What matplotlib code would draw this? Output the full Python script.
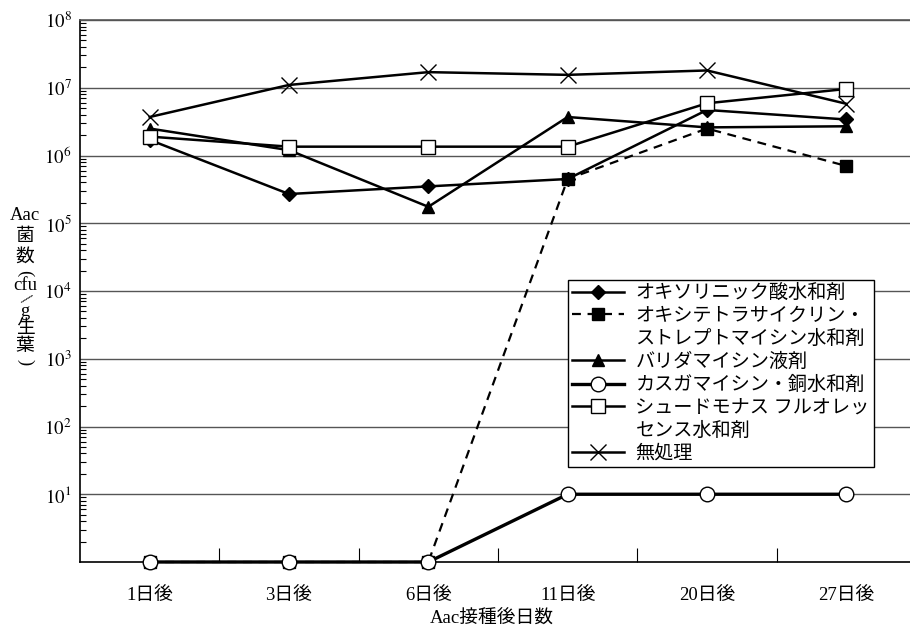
import matplotlib
matplotlib.use("Agg")
import matplotlib.pyplot as plt
import matplotlib.ticker as ticker
from matplotlib.lines import Line2D
import numpy as np

# 処理区ごとのAac菌数 (cfu/g生葉)
days = ["1日後", "3日後", "6日後", "11日後", "20日後", "27日後"]
oxolinic = [1.7e6, 2.7e5, 3.5e5, 4.5e5, 4.7e6, 3.4e6]
oxytet_strep = [1, 1, 1, 4.5e5, 2.5e6, 7.0e5]
validamycin = [2.5e6, 1.2e6, 1.75e5, 3.7e6, 2.6e6, 2.7e6]
kasugamycin = [1, 1, 1, 10, 10, 10]
pseudomonas = [1.9e6, 1.35e6, 1.35e6, 1.35e6, 5.9e6, 9.6e6]
untreated = [3.7e6, 1.1e7, 1.7e7, 1.55e7, 1.8e7, 5.8e6]

names = ["オキソリニック酸水和剤",
         "オキシテトラサイクリン・\nストレプトマイシン水和剤",
         "バリダマイシン液剤",
         "カスガマイシン・銅水和剤",
         "シュードモナス フルオレッ\nセンス水和剤",
         "無処理"]

fam = ["Liberation Serif", "Noto Sans CJK JP"]
plt.rcParams["font.family"] = fam
plt.rcParams["mathtext.fontset"] = "stix"

W, H = 910, 627
fig = plt.figure(figsize=(W / 100, H / 100), dpi=100)
# 右端は図の外まで伸ばす
ax = fig.add_axes([80 / W, (H - 562) / H, (916 - 80) / W, (562 - 20) / H])

x = np.arange(len(days))
lw = 1.8
lines = []
lines += ax.plot(x, oxolinic, color="black", lw=lw, marker="D", ms=7, mfc="black",
                 clip_on=False, zorder=3)
lines += ax.plot(x, oxytet_strep, color="black", lw=1.6, ls=(0, (4, 3)), marker="s", ms=8,
                 mfc="black", clip_on=False, zorder=3)
lines += ax.plot(x, validamycin, color="black", lw=lw, marker="^", ms=9, mfc="black",
                 clip_on=False, zorder=3)
lines += ax.plot(x, kasugamycin, color="black", lw=2.4, marker="o", ms=10.5, mfc="white",
                 mec="black", mew=1.0, clip_on=False, zorder=4)
lines += ax.plot(x, pseudomonas, color="black", lw=lw, marker="s", ms=10, mfc="white",
                 mec="black", mew=1.0, clip_on=False, zorder=3)
lines += ax.plot(x, untreated, color="black", lw=lw, marker="x", ms=11, mew=1.0,
                 clip_on=False, zorder=3)

ax.set_yscale("log")
ax.set_ylim(1, 1e8)
ax.set_xlim(-0.5, len(days) - 0.5)

# 軸目盛
ax.yaxis.set_major_locator(ticker.FixedLocator([10.0 ** k for k in range(1, 9)]))
ax.yaxis.set_major_formatter(ticker.FuncFormatter(lambda v, p: r"$10^{%d}$" % round(np.log10(v))))
ax.yaxis.set_minor_locator(ticker.LogLocator(base=10, subs=np.arange(2, 10), numticks=20))
ax.yaxis.set_minor_formatter(ticker.NullFormatter())
ax.tick_params(axis="y", which="major", length=0, pad=6, labelsize=13.5)
ax.tick_params(axis="y", which="minor", direction="in", length=4, width=0.8)

ax.set_xticks(x)
ax.set_xticklabels(days, fontsize=13.5)
ax.xaxis.set_minor_locator(ticker.FixedLocator(np.arange(0.5, len(days) - 0.5, 1)))
ax.tick_params(axis="x", which="major", length=0, pad=18)
ax.tick_params(axis="x", which="minor", direction="in", length=10, width=0.8)

ax.grid(True, axis="y", which="major", color="#555555", lw=1.0, zorder=0)
for s in ax.spines.values():
    s.set_linewidth(1.2)
ax.spines["top"].set_color("#555555")

fig.text(492 / W, 1 - 619 / H, "Aac接種後日数", ha="center", va="center", fontsize=13.5)

# 縦書きの軸ラベル (括弧は横倒し)
ylab = [("Aac", 216, 0), ("菌", 237, 0), ("数", 257, 0), ("(", 273, -90),
        ("cfu", 286, 0), ("/", 300, -40), ("g", 312, 0), ("生", 329, 0),
        ("葉", 346, 0), (")", 362, -90)]
for s, yy, rot in ylab:
    fig.text(25 / W, 1 - yy / H, s, ha="center", va="center", rotation=rot,
             fontsize=13.5, rotation_mode="anchor")

# 凡例: 2行目は記号なしの行として並べる
blank = Line2D([], [], color="none")
handles, labels = [], []
for ln, name in zip(lines, names):
    parts = name.split("\n")
    handles.append(ln)
    labels.append(parts[0])
    for p in parts[1:]:
        handles.append(blank)
        labels.append(p)

leg = ax.legend(handles, labels, loc="upper left", bbox_to_anchor=(568 / W, 1 - 280 / H),
                bbox_transform=fig.transFigure, borderaxespad=0,
                frameon=True, fancybox=False, framealpha=1, edgecolor="black",
                handlelength=2.7, handletextpad=0.6, labelspacing=0.26,
                borderpad=0.22, prop={"family": fam, "size": 13.8})
leg.get_frame().set_linewidth(1.0)
leg.set_zorder(5)

fig.savefig("out.png", dpi=100)
